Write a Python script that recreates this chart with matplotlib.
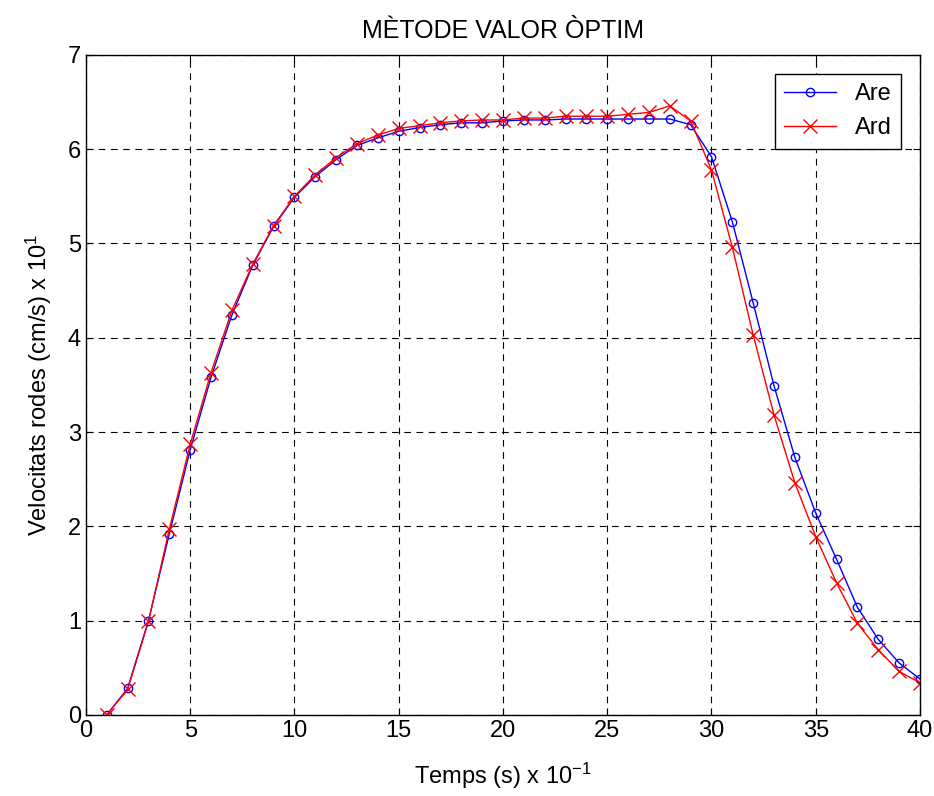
import numpy as np
import matplotlib
matplotlib.use("Agg")
import matplotlib.pyplot as plt

# temps (x 10^-1 s)
temps = list(range(1, 41))

# velocitats (x 10^1 cm/s)
are = [0.00, 0.28, 1.00, 1.92, 2.81, 3.58, 4.24, 4.77, 5.18, 5.49,
       5.71, 5.89, 6.04, 6.12, 6.19, 6.23, 6.26, 6.28, 6.28, 6.30,
       6.31, 6.31, 6.32, 6.32, 6.32, 6.32, 6.32, 6.32, 6.26, 5.92,
       5.23, 4.37, 3.49, 2.73, 2.14, 1.65, 1.14, 0.80, 0.55, 0.38]
ard = [0.00, 0.27, 0.99, 1.97, 2.87, 3.63, 4.29, 4.78, 5.19, 5.50,
       5.73, 5.91, 6.06, 6.15, 6.22, 6.25, 6.28, 6.30, 6.31, 6.31,
       6.33, 6.33, 6.35, 6.35, 6.35, 6.37, 6.39, 6.46, 6.30, 5.78,
       4.96, 4.03, 3.18, 2.46, 1.89, 1.40, 0.97, 0.69, 0.46, 0.34]

plt.rcParams['font.family'] = ['Liberation Sans', 'DejaVu Sans']
plt.rcParams['mathtext.fontset'] = 'custom'
plt.rcParams['mathtext.rm'] = 'Liberation Sans'
plt.rcParams['mathtext.it'] = 'Liberation Sans'

fig = plt.figure(figsize=(9.34, 7.96), dpi=100)
ax = fig.add_axes([0.092, 0.102, 0.893, 0.829])

ax.plot(temps, are, color='b', marker='o', markersize=6, markerfacecolor='none',
        linewidth=1, label='Are')
ax.plot(temps, ard, color='r', marker='x', markersize=10, linewidth=1, label='Ard')

ax.set_xlim(0, 40)
ax.set_ylim(0, 7)
ax.set_xticks(range(0, 41, 5))
ax.set_yticks(range(0, 8))
ax.grid(True, color='black', linestyle=(0, (6, 5)), linewidth=0.8)
ax.tick_params(direction='in', top=True, right=True, labelsize=17, length=5)
for s in ax.spines.values():
    s.set_linewidth(1)

ax.set_title('MÈTODE VALOR ÒPTIM', fontsize=18, pad=12)
ax.set_xlabel(r'Temps (s) x 10$^{-1}$', fontsize=17, labelpad=14)
ax.set_ylabel(r'Velocitats rodes (cm/s) x 10$^{1}$', fontsize=17, labelpad=10)

leg = ax.legend(loc='upper right', fontsize=17, fancybox=False, framealpha=1,
                edgecolor='black', borderaxespad=0.8, handlelength=2.2)
leg.get_frame().set_linewidth(1)

fig.savefig('out.png', dpi=100)
